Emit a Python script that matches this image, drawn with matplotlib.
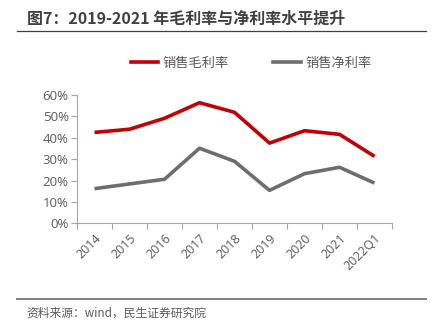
import matplotlib.pyplot as plt
from matplotlib.lines import Line2D
import numpy as np

plt.rcParams['font.family'] = ['Noto Sans CJK SC', 'DejaVu Sans']

# data
years = ['2014', '2015', '2016', '2017', '2018', '2019', '2020', '2021', '2022Q1']
gross_margin = [42.5, 44.0, 49.1, 56.4, 51.9, 37.5, 43.3, 41.6, 31.3]
net_margin = [16.2, 18.4, 20.6, 35.1, 29.0, 15.4, 23.2, 26.2, 18.8]

red = '#C00000'
grey = '#6E6E6E'
txt = '#595959'

fig = plt.figure(figsize=(4.42, 3.29), dpi=100)
W, H = 442, 329

ax = fig.add_axes([77 / W, 1 - 223.3 / H, (392 - 77) / W, (223.3 - 95) / H])
x = np.arange(len(years))
ax.plot(x, gross_margin, color=red, lw=2.6, solid_capstyle='butt')
ax.plot(x, net_margin, color=grey, lw=2.6, solid_capstyle='butt')

ax.set_xlim(-0.5, len(years) - 0.5)
ax.set_ylim(0, 60)
ax.set_yticks(range(0, 61, 10))
ax.set_yticklabels([f'{v}%' for v in range(0, 61, 10)], color=txt, fontsize=9.5,
                   family=['Open Sans', 'DejaVu Sans'])
# ticks sit between categories, labels at the centres
ax.set_xticks(np.arange(-0.5, len(years), 1.0))
ax.set_xticklabels([])
ax.set_xticks(x, minor=True)
ax.set_xticklabels(years, minor=True, rotation=45, ha='right', va='top',
                   rotation_mode='anchor', color=txt, fontsize=9,
                   family=['Open Sans', 'DejaVu Sans'])
ax.tick_params(axis='x', which='minor', length=0, pad=6)
ax.tick_params(axis='x', which='major', length=4, color='#A6A6A6', direction='out')
ax.tick_params(axis='y', length=4, color='#A6A6A6', direction='out', pad=2)
for s in ['top', 'right']:
    ax.spines[s].set_visible(False)
ax.spines['left'].set_color('#A6A6A6')
ax.spines['bottom'].set_color('#A6A6A6')

# legend
handles = [Line2D([], [], color=red, lw=2.6), Line2D([], [], color=grey, lw=2.6)]
fig.legend(handles, ['销售毛利率', '销售净利率'], loc='center', bbox_to_anchor=(251 / W, 1 - 63 / H),
           ncol=2, frameon=False, fontsize=9.5, labelcolor=txt, handlelength=2.1,
           handletextpad=0.3, columnspacing=3.4)

# title and frame lines
fig.text(27 / W, 1 - 19 / H, '图7：2019-2021 年毛利率与净利率水平提升', fontsize=11.5,
         fontweight='bold', color='#404040', va='center', ha='left')
fig.add_artist(Line2D([17 / W, 426 / W], [1 - 31 / H, 1 - 31 / H], color='#404040', lw=0.9))
fig.add_artist(Line2D([17 / W, 426 / W], [1 - 299 / H, 1 - 299 / H], color='#808080', lw=1.4))
fig.text(26 / W, 1 - 313 / H, '资料来源：wind，民生证券研究院', fontsize=8.5,
         color=txt, va='center', ha='left')

fig.savefig('out.png', dpi=100)
